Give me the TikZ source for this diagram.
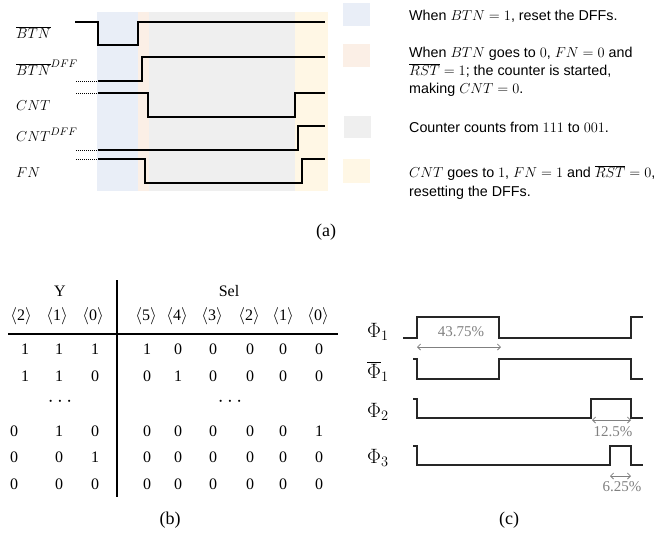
\documentclass[tikz,border=0pt]{standalone}
\usepackage{fontspec}
\setmainfont{Liberation Serif}
\newfontfamily\legendfont{Liberation Sans}
\usetikzlibrary{arrows.meta}

\definecolor{bgblue}{RGB}{233,238,247}
\definecolor{bgorange}{RGB}{251,239,230}
\definecolor{bggray}{RGB}{239,239,239}
\definecolor{bgyellow}{RGB}{255,247,229}
\definecolor{dimgrey}{RGB}{128,128,128}

\tikzset{
  wave/.style={line width=1.4pt, line join=miter, line cap=butt},
  wavec/.style={line width=1.25pt, line join=miter, line cap=butt, black!85},
  stub/.style={line width=1pt, dash pattern=on 1pt off 1pt},
  siglabel/.style={anchor=base west, inner sep=0pt, font=\fontsize{15}{17}\selectfont},
  legtext/.style={anchor=base west, inner sep=0pt, font=\legendfont\fontsize{14.3}{17}\selectfont},
  caption/.style={inner sep=0pt, font=\fontsize{18}{20}\selectfont},
  cell/.style={inner sep=0pt, font=\fontsize{16}{18}\selectfont},
  dotcell/.style={inner sep=0pt, font=\fontsize{22}{24}\selectfont},
  philabel/.style={anchor=base west, inner sep=0pt, font=\fontsize{20}{22}\selectfont},
  pct/.style={inner sep=0pt, text=dimgrey, font=\fontsize{15}{17}\selectfont},
  dimarrow/.style={dimgrey, line width=0.8pt,
    {Straight Barb[length=3pt,width=6pt]}-{Straight Barb[length=3pt,width=6pt]}}
}

\begin{document}
\begin{tikzpicture}[x=1pt,y=-1pt]
\useasboundingbox (0,0) rectangle (664,542);

% ---------- (a) timing diagram ----------
\fill[bgblue]   (97,12)  rectangle (138,191);
\fill[bgorange] (138,12) rectangle (149,191);
\fill[bggray]   (149,12) rectangle (295,191);
\fill[bgyellow] (295,12) rectangle (328,191);

% BTN bar
\draw[wave] (75,22) -- (98,22) -- (98,45) -- (138,45) -- (138,22) -- (325,22);
% BTN bar DFF
\draw[stub] (76,81) -- (98,81);
\draw[wave] (98,81) -- (142,81) -- (142,57) -- (325,57);
% CNT
\draw[stub] (76,93) -- (98,93);
\draw[wave] (98,93) -- (148,93) -- (148,117) -- (295,117) -- (295,93) -- (325,93);
% CNT DFF
\draw[stub] (76,150) -- (98,150);
\draw[wave] (98,150) -- (298,150) -- (298,126) -- (325,126);
% FN
\draw[stub] (76,159) -- (98,159);
\draw[wave] (98,159) -- (145,159) -- (145,183) -- (302,183) -- (302,159) -- (325,159);

\node[siglabel] (lbtn)    at (16,38)  {$\overline{BTN}$};
\node[siglabel] (lbtndff) at (16,75)  {$\overline{BTN}^{DFF}$};
\node[siglabel] (lcnt)    at (16,110) {$CNT$};
\node[siglabel] (lcntdff) at (16,141) {$CNT^{DFF}$};
\node[siglabel] (lfn)     at (16,177) {$FN$};

% legend
\fill[bgblue]   (343,3)   rectangle (370,26);
\fill[bgorange] (343,44)  rectangle (370,67);
\fill[bggray]   (344,116) rectangle (371,138);
\fill[bgyellow] (343,159) rectangle (370,183);

\node[legtext] (leg1)  at (409,20)  {When $BTN=1$, reset the DFFs.};
\node[legtext] (leg2a) at (409,57)  {When $BTN$ goes to $0$, $FN=0$ and};
\node[legtext] (leg2b) at (409,75)  {$\overline{RST}=1$; the counter is started,};
\node[legtext] (leg2c) at (409,93)  {making $CNT=0$.};
\node[legtext] (leg3)  at (409,132) {Counter counts from $111$ to $001$.};
\node[legtext] (leg4a) at (409,177) {$CNT$ goes to $1$, $FN=1$ and $\overline{RST}=0$,};
\node[legtext] (leg4b) at (409,196) {resetting the DFFs.};

\node[caption] (capa) at (326,232) {(a)};

% ---------- (b) truth table ----------
\node[cell] (hy)   at (60,291)  {Y};
\node[cell] (hsel) at (229,291) {Sel};
\foreach \x/\t in {21/2, 57/1, 93/0}
  \node[cell] at (\x,316) {$\langle$\t$\rangle$};
\foreach \x/\t in {146/5, 177/4, 212/3, 249/2, 283/1, 318/0}
  \node[cell] at (\x,316) {$\langle$\t$\rangle$};

\draw[line width=1.3pt] (8,334) -- (338,334);
\draw[line width=1.5pt] (117,280) -- (117,497);

% Y columns
\node[cell] at (25,349) {1}; \node[cell] at (59,349) {1}; \node[cell] at (95,349) {1};
\node[cell] at (25,376) {1}; \node[cell] at (59,376) {1}; \node[cell] at (95,376) {0};
\node[dotcell] (ydots) at (60,402) {$\cdots$};
\node[cell] at (14,431) {0}; \node[cell] at (59,431) {1}; \node[cell] at (95,431) {0};
\node[cell] at (14,457) {0}; \node[cell] at (59,457) {0}; \node[cell] at (95,457) {1};
\node[cell] at (14,484) {0}; \node[cell] at (59,484) {0}; \node[cell] at (95,484) {0};
% Sel columns
\foreach \y/\a/\b/\c/\d/\e/\f in {349/1/0/0/0/0/0, 376/0/1/0/0/0/0,
    431/0/0/0/0/0/1, 457/0/0/0/0/0/0, 484/0/0/0/0/0/0} {
  \node[cell] at (147,\y) {\a}; \node[cell] at (178,\y) {\b};
  \node[cell] at (213,\y) {\c}; \node[cell] at (250,\y) {\d};
  \node[cell] at (283,\y) {\e}; \node[cell] at (319,\y) {\f};
}
\node[dotcell] (sdots) at (230,402) {$\cdots$};

\node[caption] (capb) at (170,520) {(b)};

% ---------- (c) clock phases ----------
\draw[wavec] (403,338) -- (417,338) -- (417,317) -- (499,317) -- (499,338) -- (631,338) -- (631,317) -- (643,317);
\draw[wavec] (413,359) -- (417,359) -- (417,379) -- (499,379) -- (499,359) -- (631,359) -- (631,379) -- (643,379);
\draw[wavec] (413,399) -- (417,399) -- (417,418) -- (591,418) -- (591,399) -- (631,399) -- (631,418) -- (643,418);
\draw[wavec] (413,446) -- (417,446) -- (417,465) -- (610,465) -- (610,446) -- (631,446) -- (631,465) -- (643,465);

\node[philabel] (phi1)  at (367,337) {$\Phi_1$};
\node[philabel] (phi1b) at (367,378) {$\overline{\Phi}_1$};
\node[philabel] (phi2)  at (367,417) {$\Phi_2$};
\node[philabel] (phi3)  at (367,463) {$\Phi_3$};

\coordinate (d1a) at (417,347); \coordinate (d1b) at (501,347);
\coordinate (d2a) at (592,420); \coordinate (d2b) at (631,420);
\coordinate (d3a) at (610,476); \coordinate (d3b) at (631,476);
\draw[dimarrow] (d1a) -- (d1b);
\draw[dimarrow] (d2a) -- (d2b);
\draw[dimarrow] (d3a) -- (d3b);
\node[pct] (p1) at (461,332) {43.75\%};
\node[pct] (p2) at (613,432) {12.5\%};
\node[pct] (p3) at (622,487) {6.25\%};

\node[caption] (capc) at (509,520) {(c)};
\end{tikzpicture}
\end{document}
